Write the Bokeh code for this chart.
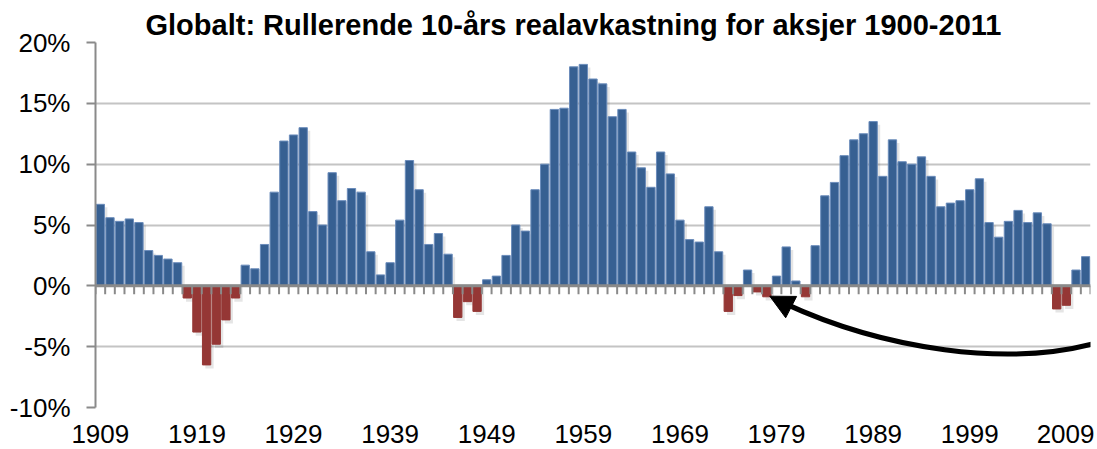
from bokeh.plotting import figure
from bokeh.models import FixedTicker, PrintfTickFormatter, Span, Arrow, NormalHead, ColumnDataSource, Range1d
from bokeh.embed import file_html
from bokeh.resources import INLINE

title_text = "Globalt: Rullerende 10-års realavkastning for aksjer 1900-2011"

years = list(range(1909, 2012))
returns = [
    6.7, 5.6, 5.3, 5.5, 5.2, 2.9, 2.5, 2.2, 1.9, -1.0,      # 1909-1918
    -3.8, -6.5, -4.8, -2.8, -1.0, 1.7, 1.4, 3.4, 7.7, 11.9,  # 1919-1928
    12.4, 13.0, 6.1, 5.0, 9.3, 7.0, 8.0, 7.7, 2.8, 0.9,      # 1929-1938
    1.9, 5.4, 10.3, 7.9, 3.4, 4.3, 2.6, -2.6, -1.3, -2.1,    # 1939-1948
    0.5, 0.8, 2.5, 5.0, 4.5, 7.9, 10.0, 14.5, 14.6, 18.0,    # 1949-1958
    18.2, 17.0, 16.6, 13.9, 14.5, 11.0, 9.7, 8.1, 11.0, 9.2, # 1959-1968
    5.4, 3.8, 3.6, 6.5, 2.8, -2.1, -0.8, 1.3, -0.5, -0.9,    # 1969-1978
    0.8, 3.2, 0.4, -0.9, 3.3, 7.4, 8.5, 10.7, 12.0, 12.5,    # 1979-1988
    13.5, 9.0, 12.0, 10.2, 10.0, 10.6, 9.0, 6.5, 6.8, 7.0,   # 1989-1998
    7.9, 8.8, 5.2, 4.0, 5.3, 6.2, 5.2, 6.0, 5.1, -1.9,       # 1999-2008
    -1.6, 1.3, 2.4,                                          # 2009-2011
]
assert len(years) == len(returns)

x_tick_years = years[::10]
y_ticks = [-10, -5, 0, 5, 10, 15, 20]

BLUE = "#376092"
BLUE_EDGE = "#6b8cbb"
RED = "#953735"
FONT = "Liberation Sans"

colors = [BLUE if v >= 0 else RED for v in returns]
edges = [BLUE_EDGE if v >= 0 else RED for v in returns]
src = ColumnDataSource(dict(
    x=years, top=returns, bottom=[0] * len(years), color=colors, edge=edges,
    sx=[y + 0.3 for y in years],
    stop=[v - 0.25 if v > 0 else 0 for v in returns],
    sbot=[0 if v > 0 else v - 0.3 for v in returns],
))

p = figure(width=1094, height=449,
           x_range=Range1d(years[0] - 0.5, years[-1] + 0.5),
           y_range=Range1d(-10, 20),
           output_backend="svg", toolbar_location=None,
           min_border_left=95, min_border_right=4,
           min_border_top=42, min_border_bottom=42)

p.title.text = title_text
p.title.text_font = FONT
p.title.text_font_size = "29px"
p.title.text_font_style = "bold"
p.title.text_color = "black"
p.title.align = "left"
p.title.offset = 50
p.title.standoff = 3

p.outline_line_color = None
p.background_fill_color = "white"
p.border_fill_color = "white"
p.xgrid.grid_line_color = None
p.ygrid.grid_line_color = "#c4c4c4"
p.ygrid.grid_line_width = 2
p.ygrid.ticker = FixedTicker(ticks=y_ticks)

p.yaxis.ticker = FixedTicker(ticks=y_ticks)
p.yaxis.formatter = PrintfTickFormatter(format="%d%%")
p.yaxis.axis_line_color = "#8a8a8a"
p.yaxis.axis_line_width = 2
p.yaxis.major_tick_line_color = "#8a8a8a"
p.yaxis.major_tick_line_width = 2
p.yaxis.major_tick_out = 9
p.yaxis.major_tick_in = 0
p.yaxis.minor_tick_line_color = None
p.yaxis.major_label_standoff = 16
p.yaxis.major_label_text_font = FONT
p.yaxis.major_label_text_font_size = "26px"
p.yaxis.major_label_text_color = "black"

p.xaxis.ticker = FixedTicker(ticks=x_tick_years)
p.xaxis.axis_line_color = None
p.xaxis.major_tick_line_color = None
p.xaxis.minor_tick_line_color = None
p.xaxis.major_label_standoff = 11
p.xaxis.major_label_text_font = FONT
p.xaxis.major_label_text_font_size = "26px"
p.xaxis.major_label_text_color = "black"

# soft shadow
p.vbar(x="sx", top="stop", bottom="sbot", width=0.86, source=src,
       fill_color="black", fill_alpha=0.10, line_color=None)
# bars
p.vbar(x="x", top="top", bottom="bottom", width=0.86, source=src,
       fill_color="color", line_color="edge", line_width=1)

# zero axis with category tick marks
bounds = [y - 0.5 for y in years] + [years[-1] + 0.5]
p.segment(x0=bounds, y0=[0] * len(bounds), x1=bounds, y1=[-0.7] * len(bounds),
          line_color="#8a8a8a", line_width=2)
p.add_layout(Span(location=0, dimension="width", line_color="#8a8a8a", line_width=3))

# curved arrow annotation
p.bezier(x0=[2012.5], y0=[-4.6], x1=[1979.7], y1=[-1.4],
         cx0=[2003.0], cy0=[-6.8], cx1=[1990.0], cy1=[-5.2],
         line_color="black", line_width=5)
p.add_layout(Arrow(x_start=1979.9, y_start=-1.5, x_end=1978.3, y_end=-0.85,
                   line_color="black", line_width=5,
                   end=NormalHead(size=24, fill_color="black", line_color="black")))

open("out.html", "w").write(file_html(p, INLINE))
